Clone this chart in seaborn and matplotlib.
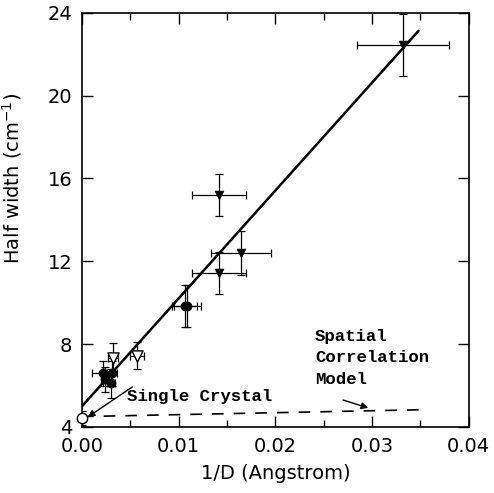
import matplotlib
matplotlib.use("Agg")
import matplotlib.pyplot as plt
import seaborn as sns
import numpy as np
import pandas as pd

# ---- data ----
tri_x = [0.0332, 0.01416, 0.01643, 0.01416]
tri_y = [22.45, 15.2, 12.4, 11.44]
tri_xerr = [0.0048, 0.0028, 0.0031, 0.0028]
tri_yerr = [1.5, 1.0, 1.05, 1.0]

circ_x = [0.00217, 0.0031, 0.0024, 0.0030, 0.0106, 0.0109]
circ_y = [6.6, 6.6, 6.3, 6.1, 9.85, 9.85]
circ_xerr = [0.0011, 0.0005, 0.0004, 0.0004, 0.0013, 0.0014]
circ_yerr = [0.6, 0.6, 0.6, 0.7, 1.0, 1.0]

otri_x = [0.0032, 0.0057]
otri_y = [7.33, 7.43]
otri_xerr = [0.0005, 0.0007]
otri_yerr = [0.7, 0.65]

sc_x = [0.0]
sc_y = [4.43]
sc_yerr = [0.35]

fit_x = [0.0, 0.0348]
fit_y = [5.0, 23.13]

model_x = [0.0, 0.035]
model_y = [4.5, 4.83]

xticks = [0.00, 0.01, 0.02, 0.03, 0.04]
yticks = [4, 8, 12, 16, 20, 24]

sns.set_style("ticks")
plt.rcParams['font.family'] = ['DejaVu Sans']
plt.rcParams['text.color'] = 'black'
plt.rcParams['axes.labelcolor'] = 'black'
plt.rcParams['xtick.color'] = 'black'
plt.rcParams['ytick.color'] = 'black'
plt.rcParams['axes.edgecolor'] = 'black'

fig = plt.figure(figsize=(4.94, 4.93), dpi=100)
ax = fig.add_axes([0.166, 0.134, 0.783, 0.840])

ebkw = dict(ecolor='black', elinewidth=0.9, capsize=3, capthick=0.9, fmt='none', zorder=2)
ax.errorbar(tri_x, tri_y, xerr=tri_xerr, yerr=tri_yerr, **ebkw)
ax.errorbar(circ_x, circ_y, xerr=circ_xerr, yerr=circ_yerr, **ebkw)
ax.errorbar(otri_x, otri_y, xerr=otri_xerr, yerr=otri_yerr, **ebkw)
ax.errorbar(sc_x, sc_y, yerr=sc_yerr, **ebkw)

sns.lineplot(x=fit_x, y=fit_y, ax=ax, color='black', lw=1.8, zorder=3)
sns.lineplot(x=model_x, y=model_y, ax=ax, color='black', lw=1.2, zorder=3)
ax.lines[-1].set_dashes([7, 6])

sns.scatterplot(x=tri_x, y=tri_y, ax=ax, marker='v', s=40, color='black',
                edgecolor='black', zorder=4)
sns.scatterplot(x=circ_x, y=circ_y, ax=ax, marker='o', s=42, color='black',
                edgecolor='black', zorder=4)
sns.scatterplot(x=otri_x, y=otri_y, ax=ax, marker='v', s=65, facecolor='white',
                edgecolor='black', linewidth=1.0, zorder=4)
sns.scatterplot(x=sc_x, y=sc_y, ax=ax, marker='o', s=55, facecolor='white',
                edgecolor='black', linewidth=1.0, zorder=4, clip_on=False)

ax.set_xlim(0, 0.04)
ax.set_ylim(4, 24)
ax.set_xticks(xticks)
ax.set_xticklabels([f"{t:.2f}" for t in xticks])
ax.set_xticks([0.005, 0.015, 0.025, 0.035], minor=True)
ax.set_yticks(yticks)
ax.tick_params(axis='both', which='major', direction='in', length=8, width=1,
               top=True, right=True, labelsize=14, pad=7, colors='black')
ax.tick_params(axis='x', which='minor', direction='in', length=5, width=1,
               top=True, colors='black')
for s in ax.spines.values():
    s.set_linewidth(1.2)
    s.set_color('black')

ax.set_xlabel("1/D (Angstrom)", fontsize=14, labelpad=6, color='black')
ax.set_ylabel("Half width (cm$^{-1}$)", fontsize=14, color='black')
ax.yaxis.set_label_coords(-0.15, 0.6)

mono = dict(family='Liberation Mono', fontweight='bold', fontsize=12.5, color='black')
ax.text(0.0047, 5.45, "Single Crystal", va='center', ha='left', **mono)
ax.annotate("", xy=(0.0006, 4.48), xytext=(0.0052, 5.93),
            arrowprops=dict(arrowstyle='-|>', color='black', lw=1.0,
                            mutation_scale=10, shrinkA=0, shrinkB=0))
ax.text(0.0241, 8.75, "Spatial\nCorrelation\nModel", va='top', ha='left',
        linespacing=1.55, **mono)
ax.annotate("", xy=(0.0296, 4.92), xytext=(0.027, 5.3),
            arrowprops=dict(arrowstyle='-|>', color='black', lw=1.0,
                            mutation_scale=10, shrinkA=0, shrinkB=0))

fig.savefig("out.png", dpi=100)
